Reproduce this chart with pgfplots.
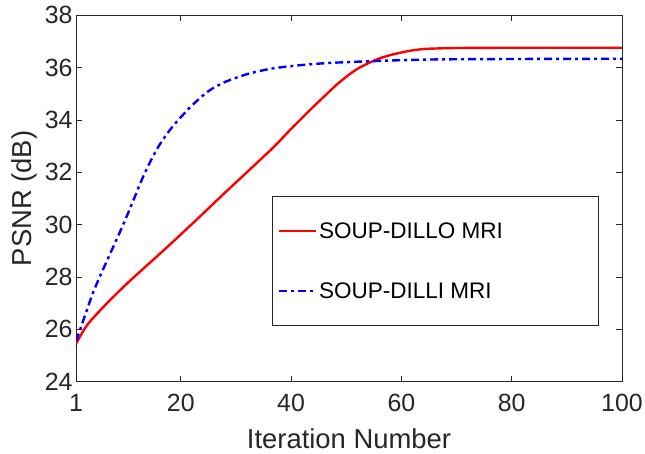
\documentclass[border=0pt]{standalone}
\usepackage{fontspec}
\setmainfont{Liberation Sans}
\usepackage{pgfplots}
\pgfplotsset{compat=1.18}
\definecolor{axgray}{RGB}{38,38,38}
\begin{document}
\begin{tikzpicture}
\begin{axis}[name=ax, scale only axis, width=546bp, height=366.4bp,
  xmin=1, xmax=100, ymin=24, ymax=38,
  xtick={1,20,40,60,80,100}, ytick={24,26,...,38},
  tick align=inside, major tick length=6bp,
  axis line style={axgray, line width=0.6bp},
  tick style={axgray, line width=0.6bp},
  ticklabel style={font=\fontsize{25}{30}\selectfont, text=axgray},
  xticklabel shift=9bp,
  /pgf/number format/assume math mode=true,
  xlabel={Iteration Number}, ylabel={PSNR (dB)},
  label style={font=\fontsize{27.5}{33}\selectfont, text=axgray},
  xlabel style={at={(axis description cs:0.5,-0.181)}, anchor=base},
  ylabel style={at={(axis description cs:-0.0824,0.5)}, anchor=base, rotate=0},
  legend style={draw=none, fill=none, at={(axis description cs:0.37,0.329)}, anchor=west,
    inner sep=0pt, row sep=40bp, font=\fontsize{22.6}{27}\selectfont,
    nodes={inner sep=1.5bp, text=black}},
  legend cell align=left,
  legend image code/.code={\draw[#1] (0bp,0bp) -- (37bp,0bp);},
]
\addplot[red, line width=2.4bp, smooth, tension=0.5] coordinates {
(1,25.45) (2.8,26.1) (4.6,26.55) (7,27.08) (10,27.7) (13,28.28) (16,28.85)
(19,29.43) (22,30.02) (25,30.62) (28,31.22) (31,31.81) (34,32.4) (37,33.0) (40,33.66) (42,34.08)
(44,34.5) (46,34.9) (48,35.3) (50,35.65) (52,35.95) (54,36.17) (56,36.35) (58,36.48)
(60,36.58) (62,36.66) (64,36.71) (66,36.73) (70,36.75) (80,36.76) (90,36.76) (100,36.76)
};
\addlegendentry{SOUP-DILLO MRI}
\addplot[blue, line width=2.4bp, smooth, tension=0.5, dash pattern=on 8bp off 4bp on 3bp off 4bp] coordinates {
(1,25.55) (2.5,26.45) (4,27.35) (5.5,28.1) (7,28.8) (8.5,29.5) (10,30.22) (11.5,30.98)
(13,31.75) (14.5,32.42) (16,33.0) (17.5,33.47) (19,33.87) (20.5,34.22)
(22,34.55) (25,35.1) (28,35.45) (32,35.75) (35.6,35.93) (38,36.01) (42,36.1)
(47,36.18) (55,36.25) (65,36.31) (80,36.33) (100,36.34)
};
\addlegendentry{SOUP-DILLI MRI}
\draw[line width=0.6bp, draw=axgray] (axis description cs:0.359,0.155) rectangle (axis description cs:0.956,0.507);
\end{axis}
\pgfresetboundingbox
\path ([xshift=-76bp,yshift=-71.3bp]ax.south west) rectangle ([xshift=23bp,yshift=15.3bp]ax.north east);
\end{tikzpicture}
\end{document}
